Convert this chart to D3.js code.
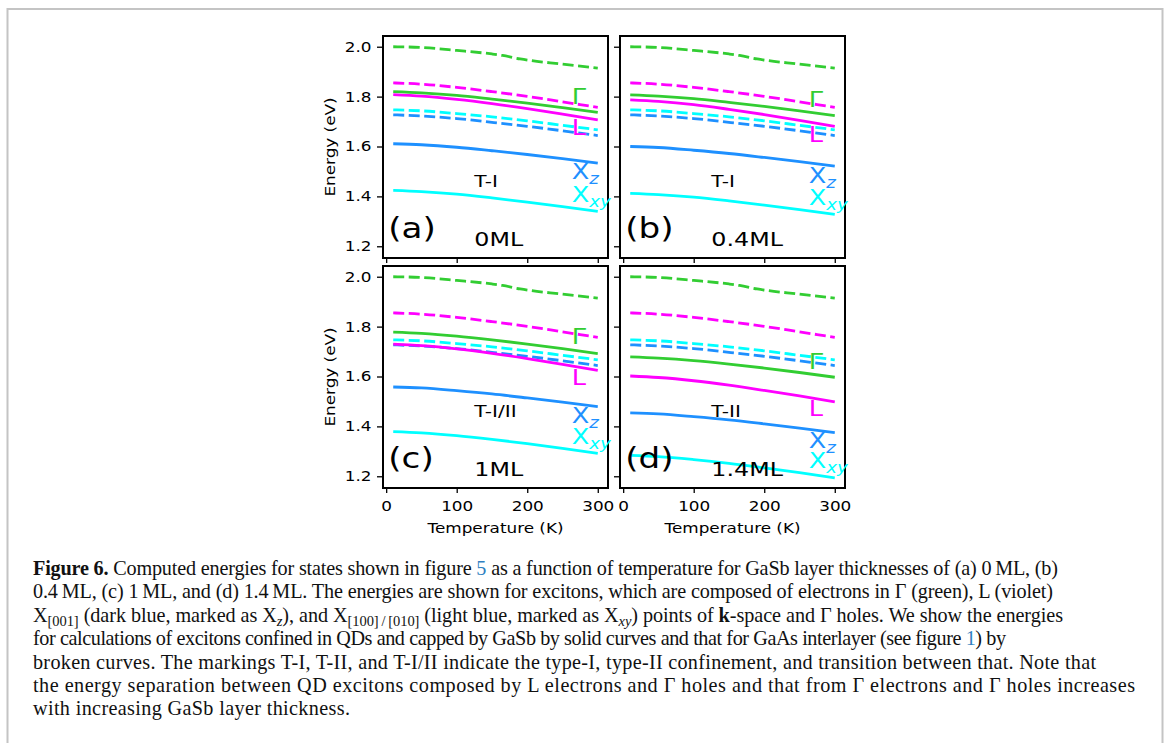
<!DOCTYPE html>
<html>
<head>
<meta charset="utf-8">
<script src="https://cdn.jsdelivr.net/npm/d3@7"></script>
<style>
  body { margin: 0; background: #fff; }
  svg { display: block; }
</style>
</head>
<body>
<div id="chart"></div>
<script>
// ---- data ----
var temps = [10, 50, 100, 150, 200, 250, 300];

// GaAs interlayer (broken curves), same in every panel
var dashGammaT = [10, 50, 100, 150, 165, 190, 250, 300];
var dashGamma  = [2.000, 1.997, 1.985, 1.971, 1.965, 1.951, 1.930, 1.914];
var dashL      = [1.855, 1.850, 1.837, 1.820, 1.801, 1.779, 1.757];
var dashXxy    = [1.747, 1.743, 1.732, 1.719, 1.703, 1.685, 1.667];
var dashXz     = [1.727, 1.722, 1.712, 1.697, 1.681, 1.663, 1.644];

// capped by GaSb (solid curves), one row per panel (a)-(d)
var solidGamma = [
  [1.820, 1.815, 1.805, 1.790, 1.774, 1.756, 1.737],
  [1.807, 1.802, 1.792, 1.777, 1.761, 1.743, 1.724],
  [1.778, 1.773, 1.762, 1.747, 1.730, 1.712, 1.692],
  [1.679, 1.674, 1.664, 1.650, 1.634, 1.616, 1.597]
];
var solidL = [
  [1.808, 1.802, 1.789, 1.772, 1.752, 1.730, 1.707],
  [1.787, 1.781, 1.768, 1.749, 1.728, 1.705, 1.681],
  [1.730, 1.724, 1.711, 1.693, 1.672, 1.649, 1.625],
  [1.602, 1.596, 1.583, 1.565, 1.544, 1.522, 1.498]
];
var solidXz = [
  [1.611, 1.607, 1.597, 1.583, 1.568, 1.551, 1.533],
  [1.600, 1.596, 1.585, 1.572, 1.556, 1.539, 1.521],
  [1.558, 1.554, 1.543, 1.530, 1.514, 1.497, 1.479],
  [1.454, 1.450, 1.439, 1.426, 1.410, 1.393, 1.375]
];
var solidXxy = [
  [1.424, 1.419, 1.409, 1.394, 1.377, 1.359, 1.340],
  [1.412, 1.407, 1.397, 1.382, 1.365, 1.347, 1.328],
  [1.379, 1.374, 1.363, 1.348, 1.331, 1.312, 1.292],
  [1.284, 1.279, 1.267, 1.252, 1.234, 1.215, 1.194]
];

var panelNames  = ["(a)", "(b)", "(c)", "(d)"];
var layerLabels = ["0ML", "0.4ML", "1ML", "1.4ML"];
var typeLabels  = ["T-I", "T-I", "T-I/II", "T-II"];
var xTicks = [0, 100, 200, 300];
var yTicks = [1.2, 1.4, 1.6, 1.8, 2.0];

// ---- layout ----
var svgWidth = 1170, svgHeight = 743;
var pw = 225, ph = 222;
var panelPos = [[383, 36], [620, 36], [383, 266], [620, 266]];
var SX = 1.22;   // glyphs in the figure are drawn wide
var col = { gamma: "#32cd32", L: "#ff00ff", xz: "#1e90ff", xxy: "#00ffff" };
// where the curve labels sit (energy, eV), per panel
var spotGamma = [1.772, 1.760, 1.730, 1.629];
var spotL     = [1.648, 1.620, 1.566, 1.442];
var spotXz    = [1.471, 1.452, 1.415, 1.315];
var spotXxy   = [1.377, 1.364, 1.328, 1.234];
// right end of each caption line
var capEnds = [1058, 1053, 1063, 1006, 1096, 1135, 350];

var svg = d3.select("#chart").append("svg")
  .attr("width", svgWidth)
  .attr("height", svgHeight);

svg.append("rect").attr("width", svgWidth).attr("height", svgHeight).attr("fill", "#fff");
svg.append("rect")
  .attr("x", 7.5).attr("y", 9)
  .attr("width", 1155).attr("height", 800)
  .attr("fill", "none").attr("stroke", "#c4c4c4").attr("stroke-width", 2);

var x = d3.scaleLinear().domain([-4.5, 314.5]).range([0, pw]);
var y = d3.scaleLinear().domain([1.153, 2.043]).range([ph, 0]);

function lineFor(ts) {
  return d3.line()
    .x(function(d, i) { return x(ts[i]); })
    .y(function(d) { return y(d); })
    .curve(d3.curveMonotoneX);
}
var line = lineFor(temps);
var lineG = lineFor(dashGammaT);

function stext(g, px, py, str, size, anchor, color) {
  return g.append("text")
    .attr("transform", "translate(" + px + "," + py + ") scale(" + SX + ",1)")
    .attr("text-anchor", anchor)
    .attr("font-size", size)
    .attr("fill", color || "#000")
    .text(str);
}

function subLabel(g, px, py, main, sub, color) {
  var t = g.append("text")
    .attr("transform", "translate(" + px + "," + py + ") scale(" + SX + ",1)")
    .attr("font-size", 21)
    .attr("fill", color);
  t.append("tspan").text(main);
  t.append("tspan").attr("font-style", "italic").attr("font-size", 15).attr("dy", 5).text(sub);
}

panelPos.forEach(function(p, k) {
  var g = svg.append("g")
    .attr("transform", "translate(" + p[0] + "," + p[1] + ")")
    .attr("font-family", "DejaVu Sans");

  // broken curves
  [[lineG(dashGamma), col.gamma], [line(dashL), col.L], [line(dashXxy), col.xxy], [line(dashXz), col.xz]].forEach(function(s) {
    g.append("path").attr("d", s[0])
      .attr("fill", "none").attr("stroke", s[1])
      .attr("stroke-width", 2.8).attr("stroke-dasharray", "11,4.5");
  });
  // solid curves
  [[solidXxy[k], col.xxy], [solidXz[k], col.xz], [solidL[k], col.L], [solidGamma[k], col.gamma]].forEach(function(s) {
    g.append("path").attr("d", line(s[0]))
      .attr("fill", "none").attr("stroke", s[1])
      .attr("stroke-width", 2.8);
  });

  // axes
  var isLeft = k % 2 === 0, isBottom = k >= 2;
  var ya = g.append("g")
    .call(d3.axisLeft(y).tickValues(yTicks).tickSize(6).tickPadding(0)
      .tickFormat(isLeft ? d3.format(".1f") : function() { return ""; }));
  var xa = g.append("g").attr("transform", "translate(0," + ph + ")")
    .call(d3.axisBottom(x).tickValues(xTicks).tickSize(5).tickPadding(0)
      .tickFormat(isBottom ? d3.format("d") : function() { return ""; }));
  [ya, xa].forEach(function(a) {
    a.select(".domain").remove();
    a.selectAll(".tick line").attr("stroke", "#000").attr("stroke-width", 1.3);
    a.selectAll(".tick text").attr("font-family", "DejaVu Sans").attr("font-size", 13.8).attr("fill", "#000");
  });
  ya.selectAll(".tick text").attr("x", -11.5 / SX).attr("transform", "scale(" + SX + ",1)");
  xa.selectAll(".tick text").attr("y", 13.7).attr("transform", "scale(" + SX + ",1)")
    .attr("x", 0);

  g.append("rect").attr("width", pw).attr("height", ph)
    .attr("fill", "none").attr("stroke", "#000").attr("stroke-width", 2);

  if (isLeft) {
    g.append("text")
      .attr("transform", "translate(-53," + (ph / 2) + ") rotate(-90) scale(" + SX + ",1)")
      .attr("text-anchor", "middle").attr("font-size", 13.8)
      .attr("dy", "0.35em")
      .text("Energy (eV)");
  }
  if (isBottom) {
    stext(g, pw / 2, ph + 45, "Temperature (K)", 13.8, "middle");
  }

  // annotations
  stext(g, x(3), y(1.233), panelNames[k], 28, "start");
  stext(g, x(125), y(1.2), layerLabels[k], 19.5, "start");
  stext(g, x(125), y(1.436), typeLabels[k], 16.5, "start");
  stext(g, x(263), y(spotGamma[k]), "\u0393", 21, "start", col.gamma);
  stext(g, x(263), y(spotL[k]), "L", 21, "start", col.L);
  subLabel(g, x(263), y(spotXz[k]), "X", "z", col.xz);
  subLabel(g, x(263), y(spotXxy[k]), "X", "xy", col.xxy);
});

// ---- caption ----
var capLines = [
  [["Figure 6.", "b"], [" Computed energies for states shown in figure "], ["5", "link"], [" as a function of temperature for GaSb layer thicknesses of (a) 0\u2009ML, (b)"]],
  [["0.4\u2009ML, (c) 1\u2009ML, and (d) 1.4\u2009ML. The energies are shown for excitons, which are composed of electrons in \u0393 (green), L (violet)"]],
  [["X"], ["[001]", "sub"], [" (dark blue, marked as X"], ["z", "subi"], ["), and X"], ["[100]\u2009/\u2009[010]", "sub"], [" (light blue, marked as X"], ["xy", "subi"], [") points of "], ["k", "b"], ["-space and \u0393 holes. We show the energies"]],
  [["for calculations of excitons confined in QDs and capped by GaSb by solid curves and that for GaAs interlayer (see figure "], ["1", "link"], [") by"]],
  [["broken curves. The markings T-I, T-II, and T-I/II indicate the type-I, type-II confinement, and transition between that. Note that"]],
  [["the energy separation between QD excitons composed by L electrons and \u0393 holes and that from \u0393 electrons and \u0393 holes increases"]],
  [["with increasing GaSb layer thickness."]]
];

var cap = svg.append("g").attr("font-family", "Liberation Serif").attr("font-size", 20.2).attr("fill", "#111");
capLines.forEach(function(segs, i) {
  var t = cap.append("text").attr("x", 33).attr("y", 575 + i * 23.4)
    .attr("textLength", capEnds[i] - 33).attr("lengthAdjust", "spacing");
  var shifted = false;
  segs.forEach(function(s) {
    var ts = t.append("tspan").text(s[0]);
    var kind = s[1];
    if (kind === "sub" || kind === "subi") {
      ts.attr("dy", 4.5).attr("font-size", 14.5);
      if (kind === "subi") ts.attr("font-style", "italic");
      shifted = true;
    } else {
      if (shifted) { ts.attr("dy", -4.5); shifted = false; }
      if (kind === "b") ts.attr("font-weight", "bold");
      if (kind === "link") ts.attr("fill", "#2f7fc1");
    }
  });
});
</script>
</body>
</html>
